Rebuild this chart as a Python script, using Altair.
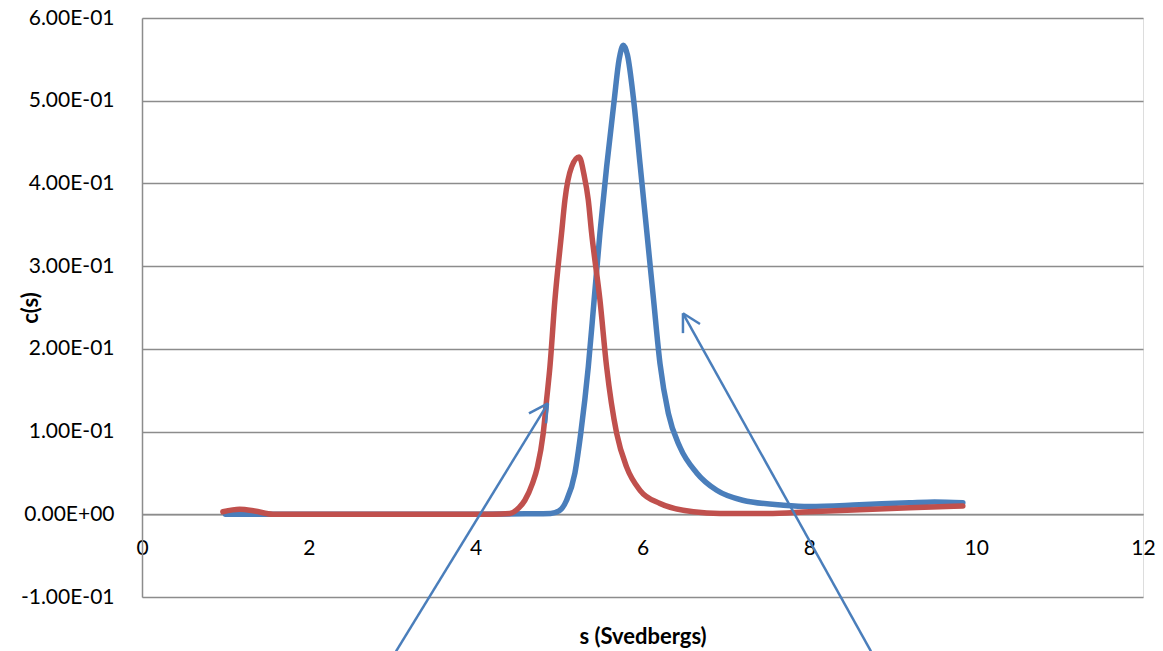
import altair as alt
import pandas as pd

# Blue series (s, c(s))
blue_s = [1.0, 2.0, 3.0, 4.0, 4.6, 4.9, 5.0, 5.09, 5.19, 5.26, 5.35, 5.42, 5.49, 5.57,
          5.66, 5.72, 5.77, 5.82, 5.89, 5.97, 6.05, 6.13, 6.21, 6.31, 6.45, 6.65, 6.89,
          7.2, 7.69, 8.0, 8.6, 9.2, 9.5, 9.84]
blue_c = [0.0, 0.0, 0.0, 0.0, 0.0005, 0.001, 0.004, 0.017, 0.05, 0.098, 0.178, 0.259, 0.340, 0.42,
          0.50, 0.55, 0.567, 0.555, 0.504, 0.424, 0.343, 0.262, 0.182, 0.122, 0.081, 0.050, 0.029,
          0.017, 0.011, 0.0095, 0.0115, 0.014, 0.015, 0.014]

# Red series (s, c(s))
red_s = [0.97, 1.17, 1.35, 1.57, 2.5, 3.5, 4.2, 4.41, 4.52, 4.59, 4.68, 4.74, 4.81, 4.85,
         4.89, 4.95, 5.03, 5.07, 5.15, 5.24, 5.30, 5.35, 5.39, 5.49, 5.57, 5.69, 5.81,
         5.97, 6.21, 6.61, 6.93, 7.5, 8.0, 8.6, 9.2, 9.84]
red_c = [0.003, 0.006, 0.004, 0.0, 0.0, 0.0, 0.0, 0.001, 0.008, 0.017, 0.037, 0.057, 0.098, 0.138,
         0.178, 0.259, 0.34, 0.38, 0.42, 0.432, 0.41, 0.38, 0.34, 0.259, 0.178, 0.098, 0.057,
         0.029, 0.013, 0.003, 0.001, 0.001, 0.003, 0.0055, 0.008, 0.010]

# Annotation arrows (data units): shaft and two head strokes each
arrow_x1 = [3.045, 4.867, 4.867, 8.739, 6.485, 6.485]
arrow_y1 = [-0.1657, 0.134, 0.134, -0.1657, 0.243, 0.243]
arrow_x2 = [4.867, 4.639, 4.843, 6.485, 6.485, 6.689]
arrow_y2 = [0.134, 0.122, 0.110, 0.243, 0.219, 0.230]

x_ticks = [0, 2, 4, 6, 8, 10, 12]
y_ticks = [-0.1, 0.0, 0.1, 0.2, 0.3, 0.4, 0.5, 0.6]

GRID = "#8c8c8c"
BLUE = "#4a7ebb"
RED = "#c0504d"

blue_df = pd.DataFrame({"s": blue_s, "c": blue_c})
red_df = pd.DataFrame({"s": red_s, "c": red_c})
arrow_df = pd.DataFrame({"x": arrow_x1, "y": arrow_y1, "x2": arrow_x2, "y2": arrow_y2})

xscale = alt.Scale(domain=[0, 12], nice=False, zero=False)
yscale = alt.Scale(domain=[-0.1, 0.6], nice=False, zero=False)

x_axis = alt.Axis(
    values=x_ticks, format="d", offset=-82.7, ticks=False, grid=False,
    domainColor=GRID, domainWidth=1.5, labelFontSize=21, labelPadding=23,
    labelFlush=False, labelColor="black",
    title="s (Svedbergs)", titleFontSize=22, titleFontWeight="bold",
    titleColor="black", titleY=122, titleBaseline="middle", titleX=500.5,
)
y_axis = alt.Axis(
    values=y_ticks, ticks=False, grid=True, gridColor=GRID, gridWidth=1.5,
    domainColor=GRID, domainWidth=1.5, labelFontSize=21, labelPadding=28,
    labelColor="black",
    labelExpr="datum.value == 0 ? '0.00E+00' : (datum.value < 0 ? '-' : '') + format(abs(datum.value) * 10, '.2f') + 'E-01'",
    title="c(s)", titleFontSize=22, titleFontWeight="bold", titleColor="black",
    titleAngle=-90, titleX=-112, titleY=289.5, titleBaseline="middle", titleAlign="center",
)

blue = alt.Chart(blue_df).mark_line(
    color=BLUE, strokeWidth=5.5, interpolate="monotone", strokeCap="round", strokeJoin="round"
).encode(
    x=alt.X("s:Q", scale=xscale, axis=x_axis),
    y=alt.Y("c:Q", scale=yscale, axis=y_axis),
)
red = alt.Chart(red_df).mark_line(
    color=RED, strokeWidth=5.5, interpolate="monotone", strokeCap="round", strokeJoin="round"
).encode(
    x=alt.X("s:Q", scale=xscale),
    y=alt.Y("c:Q", scale=yscale),
)
arrows = alt.Chart(arrow_df).mark_rule(color=BLUE, strokeWidth=2.5, clip=False).encode(
    x=alt.X("x:Q", scale=xscale),
    y=alt.Y("y:Q", scale=yscale),
    x2="x2:Q",
    y2="y2:Q",
)

chart = alt.layer(blue, red, arrows).properties(
    width=1001, height=579,
    autosize=alt.AutoSizeParams(type="none"),
    padding={"left": 142, "top": 18, "right": 20, "bottom": 54},
    background="white",
).configure_view(stroke=None).configure(font="Lato")

chart.save("out.html", embed_options={"renderer": "svg", "actions": False})
